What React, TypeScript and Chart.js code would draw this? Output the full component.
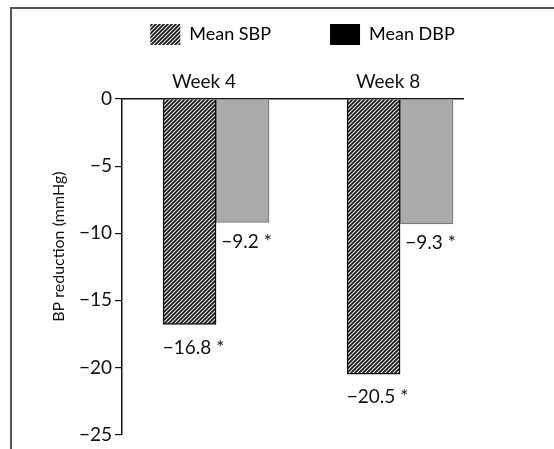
import React, { useEffect, useRef } from "react";
import { Chart, registerables } from "chart.js";

Chart.register(...registerables);

const categories = ["Week 4", "Week 8"];
const seriesNames = ["Mean SBP", "Mean DBP"];
const sbpValues = [-16.8, -20.5];
const dbpValues = [-9.2, -9.3];
const yTicks = [0, -5, -10, -15, -20, -25];
const yTitle = "BP reduction (mmHg)";

const FONT = "Lato, 'DejaVu Sans', sans-serif";

function makeHatch(): CanvasPattern | string {
  const c = document.createElement("canvas");
  c.width = 4;
  c.height = 4;
  const g = c.getContext("2d");
  if (!g) return "#555";
  g.fillStyle = "#e4e4e4";
  g.fillRect(0, 0, 4, 4);
  g.strokeStyle = "#151515";
  g.lineWidth = 1.6;
  g.beginPath();
  g.moveTo(-1, 5);
  g.lineTo(5, -1);
  g.moveTo(-1, 1);
  g.lineTo(1, -1);
  g.moveTo(3, 5);
  g.lineTo(5, 3);
  g.stroke();
  const p = g.createPattern(c, "repeat");
  return p || "#555";
}

const fmt = (v: number) => (v < 0 ? "\u2212" + Math.abs(v).toFixed(1) : v.toFixed(1));

const valueLabels = {
  id: "valueLabels",
  afterDatasetsDraw(chart: any) {
    const ctx = chart.ctx;
    ctx.save();
    ctx.font = `19px ${FONT}`;
    ctx.fillStyle = "#111";
    ctx.textAlign = "center";
    ctx.textBaseline = "middle";
    chart.data.datasets.forEach((ds: any, di: number) => {
      const meta = chart.getDatasetMeta(di);
      meta.data.forEach((el: any, i: number) => {
        const v = ds.data[i].y;
        ctx.fillText(fmt(v) + " *", el.x + 4, el.y + (di === 0 ? 23 : 19));
      });
    });
    ctx.restore();
  },
};

const axisTitle = {
  id: "axisTitle",
  afterDraw(chart: any) {
    const ctx = chart.ctx;
    const ys = chart.scales.y;
    const area = chart.chartArea;
    ctx.save();
    ctx.translate(ys.left + 8, area.top + area.height * 0.44);
    ctx.rotate(-Math.PI / 2);
    ctx.font = `16px ${FONT}`;
    ctx.fillStyle = "#111";
    ctx.textAlign = "center";
    ctx.textBaseline = "middle";
    ctx.fillText(yTitle, 0, 0);
    ctx.restore();
  },
};

export default function App() {
  const ref = useRef<HTMLCanvasElement>(null);
  useEffect(() => {
    if (!ref.current) return;
    const hatch = makeHatch();
    const chart = new Chart(ref.current, {
      type: "bar",
      data: {
        datasets: [
          {
            label: seriesNames[0],
            data: categories.map((_, i) => ({ x: i + 1, y: sbpValues[i] })),
            backgroundColor: hatch as any,
            borderColor: "#111",
            borderWidth: 1.5,
            barThickness: 53,
          },
          {
            label: seriesNames[1],
            data: categories.map((_, i) => ({ x: i + 1, y: dbpValues[i] })),
            backgroundColor: "#aaaaaa",
            borderColor: "#7a7a7a",
            borderWidth: 1.2,
            barThickness: 53,
          },
        ],
      },
      options: {
        responsive: false,
        animation: false,
        layout: { padding: { left: 51, right: 0, top: -35, bottom: 13 } },
        plugins: {
          tooltip: { enabled: false },
          legend: {
            display: true,
            position: "top",
            align: "center",
            labels: {
              font: { family: FONT, size: 18 },
              color: "#111",
              boxWidth: 30,
              boxHeight: 21,
              padding: 59,
              generateLabels: () => [
                { text: seriesNames[0], fillStyle: hatch as any, strokeStyle: "rgba(0,0,0,0)", lineWidth: 0, datasetIndex: 0, hidden: false },
                { text: seriesNames[1], fillStyle: "#000", strokeStyle: "rgba(0,0,0,0)", lineWidth: 0, datasetIndex: 1, hidden: false },
              ] as any,
            },
          },
        },
        scales: {
          x: {
            type: "linear",
            position: "top",
            offset: false,
            min: 0.489,
            max: 2.342,
            grid: { display: false, drawTicks: false },
            border: { display: true, color: "#111", width: 1.5 },
            afterBuildTicks: (s: any) => {
              s.ticks = categories.map((_, i) => ({ value: i + 1 }));
            },
            afterFit: (s: any) => {
              s.height = 44;
            },
            ticks: {
              font: { family: FONT, size: 19 },
              color: "#111",
              padding: 6,
              labelOffset: -12,
              maxRotation: 0,
              autoSkip: false,
              callback: (_v: any, i: number) => categories[i],
            },
          },
          y: {
            type: "linear",
            min: -25,
            max: 0,
            afterBuildTicks: (s: any) => {
              s.ticks = yTicks.map((v) => ({ value: v }));
            },
            afterFit: (s: any) => {
              s.width = 71;
            },
            grid: { display: true, drawOnChartArea: false, drawTicks: true, tickLength: 7, color: "#111", lineWidth: 1.2 },
            border: { display: true, color: "#111", width: 1.5 },
            ticks: {
              font: { family: FONT, size: 19 },
              color: "#111",
              padding: 3,
              callback: (v: any) => (Number(v) < 0 ? "\u2212" + Math.abs(Number(v)) : String(v)),
            },
            title: { display: false },
          },
          yR: {
            type: "linear",
            position: "right",
            display: true,
            grid: { display: false },
            border: { display: false },
            ticks: { display: false },
            afterFit: (s: any) => {
              s.width = 91;
            },
          },
        },
      },
      plugins: [valueLabels, axisTitle],
    });
    return () => chart.destroy();
  }, []);

  return (
    <div style={{ position: "fixed", left: 0, top: 0, width: 554, height: 449, background: "#fff", overflow: "hidden" }}>
      <div
        style={{
          position: "absolute",
          left: 10,
          top: 7,
          width: 700,
          height: 700,
          borderLeft: "2px solid #555",
          borderTop: "2px solid #555",
        }}
      />
      <canvas ref={ref} width={554} height={449} style={{ position: "absolute", left: 0, top: 0, width: 554, height: 449 }} />
    </div>
  );
}
